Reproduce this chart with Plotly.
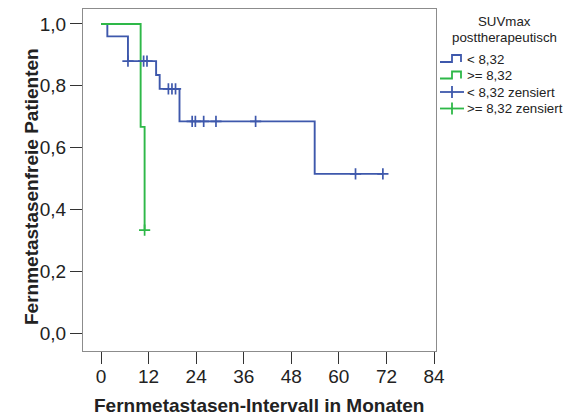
import numpy as np
import plotly.graph_objects as go

# ---- data ----
blue_name = "< 8,32"
green_name = ">= 8,32"
blue_times = [0, 1.6, 6.8, 13.9, 14.8, 19.8, 53.9, 71.1]
blue_surv = [1.0, 0.96, 0.88, 0.835, 0.79, 0.685, 0.515, 0.515]
blue_censor_times = [6.8, 10.75, 11.6, 17.0, 17.9, 18.8, 23.0, 23.8, 25.9, 29.0, 39.0, 64.2, 71.1]

green_times = [0, 10.0, 11.0]
green_surv = [1.0, 0.667, 0.333]
green_censor_times = [11.0]

x_ticks = [0, 12, 24, 36, 48, 60, 72, 84]
y_ticks = [0.0, 0.2, 0.4, 0.6, 0.8, 1.0]

x_title = "Fernmetastasen-Intervall in Monaten"
y_title = "Fernmetastasenfreie Patienten"
legend_title = ["SUVmax", "posttherapeutisch"]
legend_labels = ["< 8,32", ">= 8,32", "< 8,32 zensiert", ">= 8,32 zensiert"]

BLUE = "#3E58AC"
GREEN = "#2EB848"
FONT = "Liberation Sans, Arial, sans-serif"
TXT = "#222"


def surv_at(times, surv, t):
    idx = np.searchsorted(np.array(times), np.array(t), side="right") - 1
    return np.array(surv)[idx]


fig = go.Figure()
fig.add_trace(go.Scatter(x=blue_times, y=blue_surv, mode="lines", line_shape="hv",
                         line=dict(color=BLUE, width=1.9), showlegend=False, name=blue_name))
fig.add_trace(go.Scatter(x=green_times, y=green_surv, mode="lines", line_shape="hv",
                         line=dict(color=GREEN, width=1.9), showlegend=False, name=green_name))
fig.add_trace(go.Scatter(x=blue_censor_times, y=surv_at(blue_times, blue_surv, blue_censor_times),
                         mode="markers", showlegend=False,
                         marker=dict(symbol="cross-thin", size=8, line=dict(color=BLUE, width=1.7))))
fig.add_trace(go.Scatter(x=green_censor_times, y=surv_at(green_times, green_surv, green_censor_times),
                         mode="markers", showlegend=False,
                         marker=dict(symbol="cross-thin", size=8, line=dict(color=GREEN, width=1.7))))

# page has an 8px body margin; figure is sized to fill the rest of the window
OFF = 8
FW, FH = 579 - OFF, 419 - OFF
# plot area in page pixels
PL, PT, W, H = 83, 9, 353, 342
L, T = PL - OFF, PT - OFF


def px(xp):  # page pixel -> paper x
    return (xp - PL) / W


def py(yp):  # page pixel -> paper y
    return (PT + H - yp) / H


ann = []
ann.append(dict(x=px(259), y=py(405), text=f"<b>{x_title}</b>", showarrow=False, xref="paper",
                yref="paper", xanchor="center", yanchor="middle",
                font=dict(family=FONT, size=19, color=TXT)))
ann.append(dict(x=px(31), y=py(187), text=f"<b>{y_title}</b>", showarrow=False, xref="paper",
                yref="paper", xanchor="center", yanchor="middle", textangle=-90,
                font=dict(family=FONT, size=19, color=TXT)))

LFS = 13.3
ann.append(dict(x=px(504), y=py(21), text=legend_title[0], showarrow=False, xref="paper", yref="paper",
                xanchor="center", yanchor="middle", font=dict(family=FONT, size=LFS, color=TXT)))
ann.append(dict(x=px(504), y=py(37.5), text=legend_title[1], showarrow=False, xref="paper", yref="paper",
                xanchor="center", yanchor="middle", font=dict(family=FONT, size=LFS, color=TXT)))
rows = [59, 75.5, 92, 108.5]
colors = [BLUE, GREEN, BLUE, GREEN]
shapes = []
for i, (lab, r, c) in enumerate(zip(legend_labels, rows, colors)):
    ann.append(dict(x=px(465), y=py(r), text=lab, showarrow=False, xref="paper", yref="paper",
                    xanchor="left", yanchor="middle", font=dict(family=FONT, size=LFS, color=TXT)))
    if i < 2:
        path = (f"M {px(440)},{py(r+3)} L {px(452)},{py(r+3)} L {px(452)},{py(r-4)} "
                f"L {px(461)},{py(r-4)} L {px(461)},{py(r+3)}")
        shapes.append(dict(type="path", path=path, xref="paper", yref="paper",
                           line=dict(color=c, width=1.8)))
    else:
        shapes.append(dict(type="line", x0=px(440), x1=px(464), y0=py(r), y1=py(r),
                           xref="paper", yref="paper", line=dict(color=c, width=1.8)))
        shapes.append(dict(type="line", x0=px(452), x1=px(452), y0=py(r - 6), y1=py(r + 6),
                           xref="paper", yref="paper", line=dict(color=c, width=1.8)))

fig.update_layout(
    width=FW, height=FH,
    margin=dict(l=L, r=FW - L - W, t=T, b=FH - T - H, pad=0, autoexpand=False),
    paper_bgcolor="white", plot_bgcolor="white",
    separators=",.",
    font=dict(family=FONT, color=TXT),
    annotations=ann, shapes=shapes,
    showlegend=False,
)
fig.update_xaxes(range=[-4.54, 84.5], tickvals=x_ticks, ticks="outside", ticklen=12,
                 tickcolor="#333", tickwidth=1, showline=True, mirror=True, linecolor="#8c8c8c",
                 linewidth=1, showgrid=False, zeroline=False, automargin=False,
                 ticklabelstandoff=-4,
                 tickfont=dict(family=FONT, size=19, color=TXT))
fig.update_yaxes(range=[-0.058, 1.0485], tickvals=y_ticks, tickformat=".1f", ticks="outside",
                 ticklen=12, tickcolor="#333", tickwidth=1, showline=True, mirror=True,
                 linecolor="#8c8c8c", linewidth=1, showgrid=False, zeroline=False, automargin=False,
                 tickfont=dict(family=FONT, size=19, color=TXT))

fig.write_html("out.html")
